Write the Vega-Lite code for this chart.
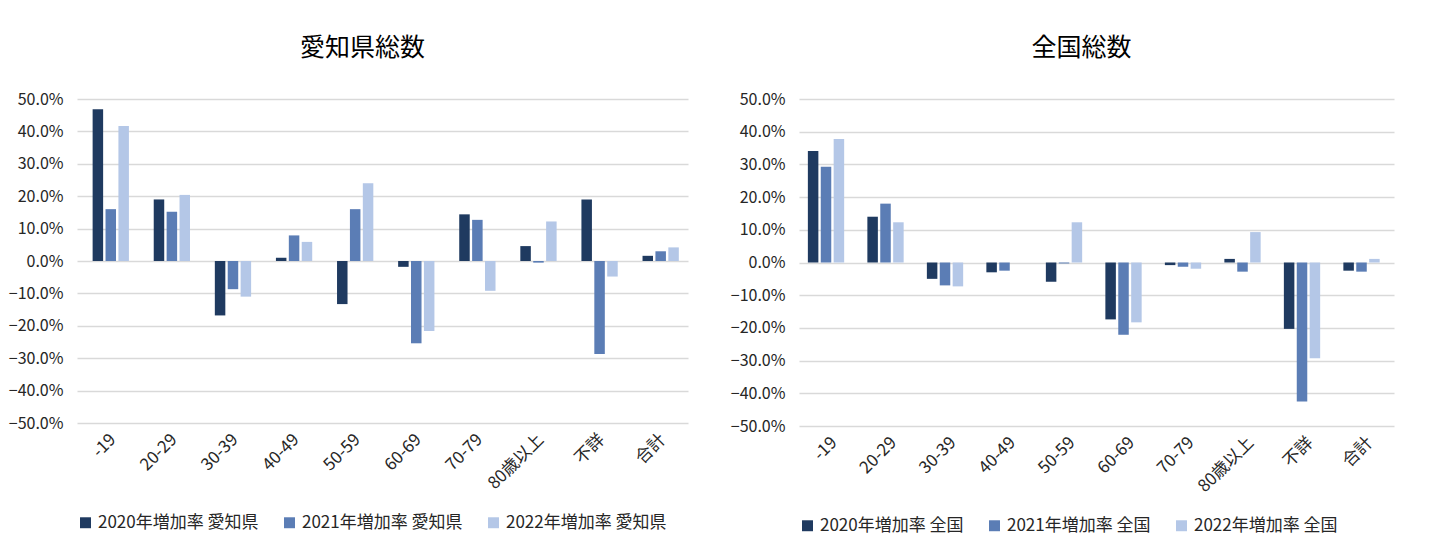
{
  "$schema": "https://vega.github.io/schema/vega-lite/v6.json",
  "background": "white",
  "padding": {"left": 8, "top": 36, "right": 5, "bottom": 5},
  "data": {"values": [
    {"panel": "A", "age": "-19", "series": "2020年増加率 愛知県", "value": 0.468},
    {"panel": "A", "age": "-19", "series": "2021年増加率 愛知県", "value": 0.160},
    {"panel": "A", "age": "-19", "series": "2022年増加率 愛知県", "value": 0.417},
    {"panel": "A", "age": "20-29", "series": "2020年増加率 愛知県", "value": 0.190},
    {"panel": "A", "age": "20-29", "series": "2021年増加率 愛知県", "value": 0.152},
    {"panel": "A", "age": "20-29", "series": "2022年増加率 愛知県", "value": 0.204},
    {"panel": "A", "age": "30-39", "series": "2020年増加率 愛知県", "value": -0.168},
    {"panel": "A", "age": "30-39", "series": "2021年増加率 愛知県", "value": -0.087},
    {"panel": "A", "age": "30-39", "series": "2022年増加率 愛知県", "value": -0.110},
    {"panel": "A", "age": "40-49", "series": "2020年増加率 愛知県", "value": 0.010},
    {"panel": "A", "age": "40-49", "series": "2021年増加率 愛知県", "value": 0.079},
    {"panel": "A", "age": "40-49", "series": "2022年増加率 愛知県", "value": 0.059},
    {"panel": "A", "age": "50-59", "series": "2020年増加率 愛知県", "value": -0.133},
    {"panel": "A", "age": "50-59", "series": "2021年増加率 愛知県", "value": 0.160},
    {"panel": "A", "age": "50-59", "series": "2022年増加率 愛知県", "value": 0.240},
    {"panel": "A", "age": "60-69", "series": "2020年増加率 愛知県", "value": -0.018},
    {"panel": "A", "age": "60-69", "series": "2021年増加率 愛知県", "value": -0.254},
    {"panel": "A", "age": "60-69", "series": "2022年増加率 愛知県", "value": -0.216},
    {"panel": "A", "age": "70-79", "series": "2020年増加率 愛知県", "value": 0.144},
    {"panel": "A", "age": "70-79", "series": "2021年増加率 愛知県", "value": 0.127},
    {"panel": "A", "age": "70-79", "series": "2022年増加率 愛知県", "value": -0.092},
    {"panel": "A", "age": "80歳以上", "series": "2020年増加率 愛知県", "value": 0.046},
    {"panel": "A", "age": "80歳以上", "series": "2021年増加率 愛知県", "value": -0.005},
    {"panel": "A", "age": "80歳以上", "series": "2022年増加率 愛知県", "value": 0.122},
    {"panel": "A", "age": "不詳", "series": "2020年増加率 愛知県", "value": 0.190},
    {"panel": "A", "age": "不詳", "series": "2021年増加率 愛知県", "value": -0.287},
    {"panel": "A", "age": "不詳", "series": "2022年増加率 愛知県", "value": -0.048},
    {"panel": "A", "age": "合計", "series": "2020年増加率 愛知県", "value": 0.016},
    {"panel": "A", "age": "合計", "series": "2021年増加率 愛知県", "value": 0.030},
    {"panel": "A", "age": "合計", "series": "2022年増加率 愛知県", "value": 0.042},
    {"panel": "B", "age": "-19", "series": "2020年増加率 全国", "value": 0.341},
    {"panel": "B", "age": "-19", "series": "2021年増加率 全国", "value": 0.293},
    {"panel": "B", "age": "-19", "series": "2022年増加率 全国", "value": 0.378},
    {"panel": "B", "age": "20-29", "series": "2020年増加率 全国", "value": 0.140},
    {"panel": "B", "age": "20-29", "series": "2021年増加率 全国", "value": 0.180},
    {"panel": "B", "age": "20-29", "series": "2022年増加率 全国", "value": 0.123},
    {"panel": "B", "age": "30-39", "series": "2020年増加率 全国", "value": -0.050},
    {"panel": "B", "age": "30-39", "series": "2021年増加率 全国", "value": -0.070},
    {"panel": "B", "age": "30-39", "series": "2022年増加率 全国", "value": -0.073},
    {"panel": "B", "age": "40-49", "series": "2020年増加率 全国", "value": -0.030},
    {"panel": "B", "age": "40-49", "series": "2021年増加率 全国", "value": -0.025},
    {"panel": "B", "age": "40-49", "series": "2022年増加率 全国", "value": 0.000},
    {"panel": "B", "age": "50-59", "series": "2020年増加率 全国", "value": -0.059},
    {"panel": "B", "age": "50-59", "series": "2021年増加率 全国", "value": -0.003},
    {"panel": "B", "age": "50-59", "series": "2022年増加率 全国", "value": 0.123},
    {"panel": "B", "age": "60-69", "series": "2020年増加率 全国", "value": -0.174},
    {"panel": "B", "age": "60-69", "series": "2021年増加率 全国", "value": -0.221},
    {"panel": "B", "age": "60-69", "series": "2022年増加率 全国", "value": -0.183},
    {"panel": "B", "age": "70-79", "series": "2020年増加率 全国", "value": -0.008},
    {"panel": "B", "age": "70-79", "series": "2021年増加率 全国", "value": -0.013},
    {"panel": "B", "age": "70-79", "series": "2022年増加率 全国", "value": -0.019},
    {"panel": "B", "age": "80歳以上", "series": "2020年増加率 全国", "value": 0.011},
    {"panel": "B", "age": "80歳以上", "series": "2021年増加率 全国", "value": -0.028},
    {"panel": "B", "age": "80歳以上", "series": "2022年増加率 全国", "value": 0.093},
    {"panel": "B", "age": "不詳", "series": "2020年増加率 全国", "value": -0.203},
    {"panel": "B", "age": "不詳", "series": "2021年増加率 全国", "value": -0.425},
    {"panel": "B", "age": "不詳", "series": "2022年増加率 全国", "value": -0.293},
    {"panel": "B", "age": "合計", "series": "2020年増加率 全国", "value": -0.025},
    {"panel": "B", "age": "合計", "series": "2021年増加率 全国", "value": -0.028},
    {"panel": "B", "age": "合計", "series": "2022年増加率 全国", "value": 0.011}
  ]},
  "hconcat": [
    {
      "title": {"text": "愛知県総数", "dx": -20},
      "width": 611,
      "height": 324,
      "transform": [{"filter": "datum.panel === 'A'"}],
      "mark": {"type": "bar", "width": 10.5},
      "encoding": {
        "x": {"field": "age", "type": "nominal", "sort": null,
              "scale": {"paddingInner": 0.39, "paddingOuter": 0.195},
              "axis": {"title": null, "labelAngle": -45, "domain": false, "ticks": false, "labelPadding": 8, "labelFontSize": 17}},
        "xOffset": {"field": "series", "type": "nominal", "scale": {"paddingInner": 0.22}},
        "y": {"field": "value", "type": "quantitative",
              "scale": {"domain": [-0.5, 0.5], "nice": false},
              "axis": {"title": null, "format": ".1%", "values": [-0.5,-0.4,-0.3,-0.2,-0.1,0,0.1,0.2,0.3,0.4,0.5], "domain": false, "ticks": false, "labelPadding": 14}},
        "color": {"field": "series", "type": "nominal",
                  "scale": {"range": ["#1f3a60", "#5b7db5", "#b4c7e7"]},
                  "legend": {"title": null, "orient": "bottom", "direction": "horizontal", "symbolType": "square"}}
      }
    },
    {
      "title": {"text": "全国総数", "dx": -15},
      "width": 595,
      "height": 327,
      "transform": [{"filter": "datum.panel === 'B'"}],
      "mark": {"type": "bar", "width": 10.5},
      "encoding": {
        "x": {"field": "age", "type": "nominal", "sort": null,
              "scale": {"paddingInner": 0.39, "paddingOuter": 0.195},
              "axis": {"title": null, "labelAngle": -45, "domain": false, "ticks": false, "labelPadding": 8, "labelFontSize": 17}},
        "xOffset": {"field": "series", "type": "nominal", "scale": {"paddingInner": 0.22}},
        "y": {"field": "value", "type": "quantitative",
              "scale": {"domain": [-0.5, 0.5], "nice": false},
              "axis": {"title": null, "format": ".1%", "values": [-0.5,-0.4,-0.3,-0.2,-0.1,0,0.1,0.2,0.3,0.4,0.5], "domain": false, "ticks": false, "labelPadding": 14}},
        "color": {"field": "series", "type": "nominal",
                  "scale": {"range": ["#1f3a60", "#5b7db5", "#b4c7e7"]},
                  "legend": {"title": null, "orient": "bottom", "direction": "horizontal", "symbolType": "square"}}
      }
    }
  ],
  "resolve": {"scale": {"color": "independent", "x": "independent", "y": "independent"}},
  "spacing": 42,
  "config": {
    "font": "Noto Sans CJK JP",
    "view": {"stroke": null},
    "title": {"fontSize": 25, "fontWeight": "normal", "color": "#000000", "offset": 30, "anchor": "middle"},
    "axis": {"labelFontSize": 16, "labelColor": "#262626", "gridColor": "#d9d9d9", "gridWidth": 1.5},
    "legend": {"labelFontSize": 17, "labelLimit": 0, "labelColor": "#262626", "symbolSize": 120, "symbolStrokeWidth": 0, "columnPadding": 22, "offset": 22}
  }
}
